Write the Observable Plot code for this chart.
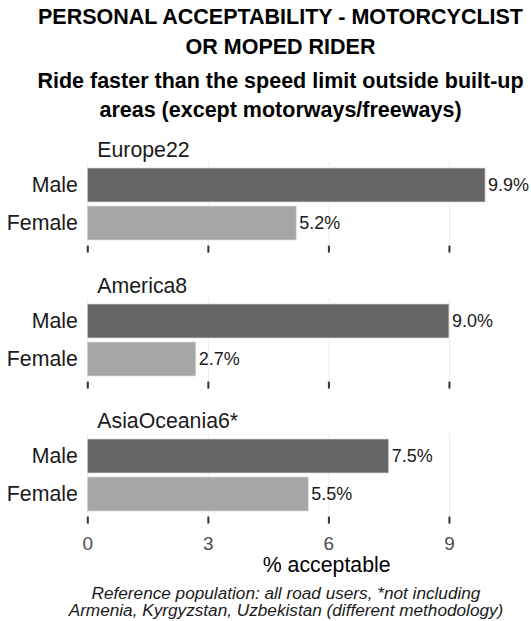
<!DOCTYPE html>
<html>
<head>
<meta charset="utf-8">
<script src="https://cdn.jsdelivr.net/npm/d3@7"></script>
<script src="https://cdn.jsdelivr.net/npm/@observablehq/plot@0.6"></script>
<style>
  html, body { margin: 0; padding: 0; background: #ffffff; }
  body { width: 531px; height: 621px; position: relative; overflow: hidden;
         font-family: "Liberation Sans", Arial, Helvetica, sans-serif; color: #000; }
  .title { position: absolute; left: 0; width: 531px; box-sizing: border-box;
           padding-left: 30px; text-align: center; font-weight: bold; font-size: 21.5px; white-space: nowrap; }
  .caption { position: absolute; left: 0; width: 531px; box-sizing: border-box; padding-left: 41px;
             text-align: center; font-style: italic; font-size: 17.2px; line-height: 17px; color: #1a1a1a; white-space: nowrap; }
  .facet { position: absolute; left: 0; }
</style>
</head>
<body>
<div class="title" style="top:2px; line-height:30px;">PERSONAL ACCEPTABILITY - MOTORCYCLIST<br>OR MOPED RIDER</div>
<div class="title" style="top:66.5px; line-height:29px;">Ride faster than the speed limit outside built-up<br>areas (except motorways/freeways)</div>
<div id="f0" class="facet"></div>
<div id="f1" class="facet"></div>
<div id="f2" class="facet"></div>
<div class="caption" style="top:584.5px;">Reference population: all road users, *not including<br>Armenia, Kyrgyzstan, Uzbekistan (different methodology)</div>
<script>
const regions = ["Europe22", "America8", "AsiaOceania6*"];
const genders = ["Male", "Female"];
const maleValues = [9.9, 9.0, 7.5];
const femaleValues = [5.2, 2.7, 5.5];
const xTicks = [0, 3, 6, 9];
const xMax = 10.395;
const axisTitle = "% acceptable";

const panelTops = [161.7, 297.5, 433.3];
const panelH = 83.6;
const labelRoom = 34;
const font = "'Liberation Sans', Arial, Helvetica, sans-serif";

regions.forEach((region, i) => {
  const rows = [
    {gender: genders[0], value: maleValues[i]},
    {gender: genders[1], value: femaleValues[i]}
  ];
  const last = i === regions.length - 1;
  const mb = last ? 66 : 12;
  const marks = [
    Plot.gridX(xTicks, {stroke: "#ebebeb", strokeOpacity: 1, strokeWidth: 1}),
    Plot.barX(rows, {x: "value", y: "gender", fill: "gender", stroke: "#dcdcdc", strokeWidth: 0.7}),
    Plot.text(rows, {x: "value", y: "gender", text: d => d.value.toFixed(1) + "%",
      textAnchor: "start", dx: 2.5, fontSize: 18, fill: "#1a1a1a"}),
    Plot.axisY({tickSize: 0, tickPadding: 10, fontSize: 21.3, fill: "#1a1a1a", label: null}),
    Plot.axisX({ticks: xTicks, tickSize: 7, tickPadding: 12, stroke: "#333333", strokeWidth: 2,
      fill: last ? "#4d4d4d" : "none", fontSize: 19, label: null, tickFormat: d => String(d)}),
    Plot.text([region], {frameAnchor: "top-left", dx: 9.5, dy: -21, text: d => d,
      textAnchor: "start", fontSize: 21.3, fill: "#1a1a1a"})
  ];
  if (last) {
    marks.push(Plot.text([axisTitle], {frameAnchor: "bottom", dx: 30, dy: 55, text: d => d,
      fontSize: 21.3, fill: "#000000"}));
  }
  const chart = Plot.plot({
    width: 531,
    height: labelRoom + panelH + mb,
    marginLeft: 87.3,
    marginRight: 26,
    marginTop: labelRoom,
    marginBottom: mb,
    style: {fontFamily: font, background: "transparent", overflow: "visible", color: "#1a1a1a"},
    x: {domain: [0, xMax]},
    y: {domain: genders, paddingInner: 0.1, paddingOuter: 0.15},
    color: {domain: genders, range: ["#666666", "#a6a6a6"]},
    marks
  });
  const host = document.getElementById("f" + i);
  host.style.top = (panelTops[i] - labelRoom) + "px";
  host.appendChild(chart);
});
</script>
</body>
</html>
